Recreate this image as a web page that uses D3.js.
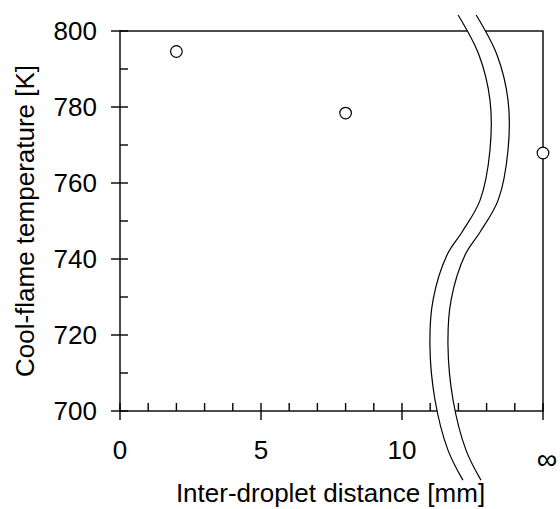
<!DOCTYPE html>
<html>
<head>
<meta charset="utf-8">
<script src="https://cdn.jsdelivr.net/npm/d3@7"></script>
<style>
  body { margin: 0; background: #fff; }
  text { font-family: "Liberation Sans", Arial, sans-serif; fill: #000; }
</style>
</head>
<body>
<div id="chart"></div>
<script>
// data (infinite spacing drawn at x = 15)
const distance = [2, 8, 15];
const temperature = [794.6, 778.4, 767.9];
const xTickLabels = [{ v: 0, t: "0" }, { v: 5, t: "5" }, { v: 10, t: "10" }];
const infLabel = { v: 15, t: "\u221E" };
const yTicks = [700, 720, 740, 760, 780, 800];

// axis break line (left edge), in data units
const breakX = [11.99, 12.73, 13.12, 13.12, 12.77, 12.13, 11.6, 11.1, 10.99, 11.17, 11.63, 12.16];
const breakY = [804.2, 793.7, 781.8, 768.7, 755.5, 747.1, 741.1, 729.2, 717.4, 702.9, 689.7, 681.8];
const breakGap = 0.64;

const width = 560, height = 509;
const margin = { top: 31, right: 17, bottom: 98, left: 120 };
const innerW = width - margin.left - margin.right;
const innerH = height - margin.top - margin.bottom;

const svg = d3.select("#chart").append("svg")
  .attr("width", width)
  .attr("height", height);

const g = svg.append("g")
  .attr("transform", `translate(${margin.left},${margin.top})`);

const x = d3.scaleLinear().domain([0, 15]).range([0, innerW]);
const y = d3.scaleLinear().domain([700, 800]).range([innerH, 0]);

// frame
g.append("rect")
  .attr("width", innerW).attr("height", innerH)
  .attr("fill", "none").attr("stroke", "#000").attr("stroke-width", 1.4);

// x ticks: minor inside, major both sides
d3.range(0, 16).forEach(v => {
  const major = v % 5 === 0;
  g.append("line")
    .attr("x1", x(v)).attr("x2", x(v))
    .attr("y1", innerH - 8).attr("y2", major ? innerH + 9 : innerH)
    .attr("stroke", "#000").attr("stroke-width", 1.4);
});

// y ticks
d3.range(700, 801, 10).forEach(v => {
  const major = v % 20 === 0;
  g.append("line")
    .attr("x1", major ? -9 : 0).attr("x2", 8)
    .attr("y1", y(v)).attr("y2", y(v))
    .attr("stroke", "#000").attr("stroke-width", 1.4);
});

g.selectAll(".ylab").data(yTicks).join("text")
  .attr("class", "ylab")
  .attr("x", -23).attr("y", d => y(d))
  .attr("dy", "0.36em")
  .attr("text-anchor", "end")
  .attr("font-size", 26)
  .text(d => d);

g.selectAll(".xlab").data(xTickLabels).join("text")
  .attr("class", "xlab")
  .attr("x", d => x(d.v)).attr("y", innerH + 39)
  .attr("dy", "0.36em")
  .attr("text-anchor", "middle")
  .attr("font-size", 26)
  .text(d => d.t);

g.append("text")
  .attr("x", x(infLabel.v) + 4).attr("y", innerH + 48)
  .attr("dy", "0.36em")
  .attr("text-anchor", "middle")
  .attr("font-size", 29)
  .text(infLabel.t);

// axis break
const bl = d3.line().curve(d3.curveCatmullRom);
const left = breakX.map((v, i) => [x(v), y(breakY[i])]);
const right = breakX.map((v, i) => [x(v + breakGap), y(breakY[i])]);
g.append("path")
  .attr("d", bl(left) + "L" + bl(right.slice().reverse()).slice(1) + "Z")
  .attr("fill", "#fff").attr("stroke", "none");
[left, right].forEach(pts => {
  g.append("path")
    .attr("d", bl(pts))
    .attr("fill", "none").attr("stroke", "#000").attr("stroke-width", 1.2);
});

// points
g.selectAll(".pt").data(distance.map((d, i) => ({ d, t: temperature[i] }))).join("circle")
  .attr("class", "pt")
  .attr("cx", p => x(p.d)).attr("cy", p => y(p.t))
  .attr("r", 5.8)
  .attr("fill", "#fff").attr("stroke", "#000").attr("stroke-width", 1.2);

// axis titles
g.append("text")
  .attr("x", innerW / 2 - 1).attr("y", innerH + 91)
  .attr("text-anchor", "middle").attr("font-size", 26)
  .text("Inter-droplet distance [mm]");

g.append("text")
  .attr("transform", "rotate(-90)")
  .attr("x", -innerH / 2).attr("y", -86)
  .attr("text-anchor", "middle").attr("font-size", 26)
  .text("Cool-flame temperature [K]");
</script>
</body>
</html>
